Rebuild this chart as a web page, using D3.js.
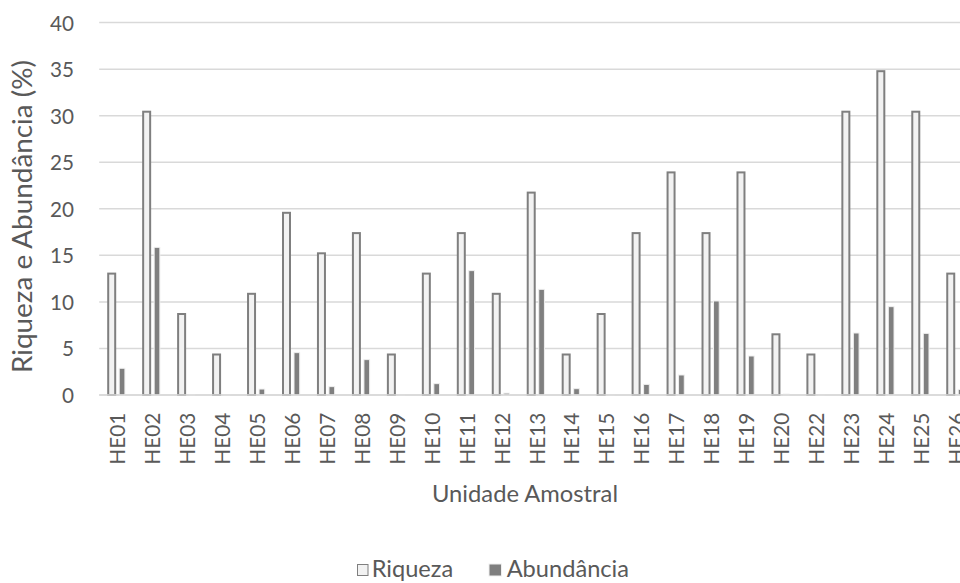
<!DOCTYPE html>
<html>
<head>
<meta charset="utf-8">
<script src="https://cdn.jsdelivr.net/npm/d3@7"></script>
<style>
  html, body { margin: 0; padding: 0; background: #ffffff; }
  svg { display: block; }
  text { font-family: Lato, "Open Sans", sans-serif; fill: #595959; }
</style>
</head>
<body>
<svg id="chart" width="960" height="583"></svg>
<script>
// ---- data ----
const categories = ["HE01","HE02","HE03","HE04","HE05","HE06","HE07","HE08","HE09","HE10",
  "HE11","HE12","HE13","HE14","HE15","HE16","HE17","HE18","HE19","HE20",
  "HE22","HE23","HE24","HE25","HE26"];
const riqueza = [13.04, 30.43, 8.70, 4.35, 10.87, 19.57, 15.22, 17.39, 4.35, 13.04,
  17.39, 10.87, 21.74, 4.35, 8.70, 17.39, 23.91, 17.39, 23.91, 6.52,
  4.35, 30.43, 34.78, 30.43, 13.04];
const abundancia = [2.87, 15.86, 0.05, 0.03, 0.64, 4.55, 0.90, 3.80, 0.03, 1.22,
  13.36, 0.20, 11.35, 0.68, 0.03, 1.14, 2.15, 10.10, 4.19, 0.10,
  0.03, 6.66, 9.49, 6.62, 0.60];
const seriesNames = ["Riqueza", "Abundância"];
const yTicks = [0, 5, 10, 15, 20, 25, 30, 35, 40];
const yTitle = "Riqueza e Abundância (%)";
const xTitle = "Unidade Amostral";

// ---- layout ----
const svg = d3.select("#chart");
const plotLeft = 99.2, step = 34.96, plotRight = 960;
const y0 = 395, yTop = 22.6;

const x = d3.scaleBand().domain(categories)
  .range([plotLeft, plotLeft + step * categories.length]).padding(0);
const xs = d3.scaleBand().domain(seriesNames).range([8, 28]).padding(0);
const y = d3.scaleLinear().domain([0, 40]).range([y0, yTop]);

function fitSize(sel, target, base) {
  sel.style("font-size", base + "px");
  const w = sel.node().getComputedTextLength();
  return base * target / w;
}

// gridlines
const grid = svg.append("g");
grid.selectAll("line").data(yTicks).join("line")
  .attr("x1", plotLeft).attr("x2", plotRight)
  .attr("y1", d => y(d)).attr("y2", d => y(d))
  .attr("stroke", "#d9d9d9").attr("stroke-width", 1.5);

// y axis labels
const yAxis = svg.append("g").attr("transform", "translate(74,0)")
  .call(d3.axisLeft(y).tickValues(yTicks).tickSize(0).tickPadding(0));
yAxis.select(".domain").remove();
const tmp = svg.append("text").text("35");
const tickFs = fitSize(tmp, 24, 20);
tmp.remove();
yAxis.selectAll("text").attr("fill", "#595959")
  .style("font-family", "Lato, 'Open Sans', sans-serif")
  .style("font-size", tickFs + "px").attr("dy", "0.36em");

// bars
const groups = svg.append("g").selectAll("g").data(categories).join("g")
  .attr("transform", d => `translate(${x(d)},0)`);

groups.append("rect")
  .attr("x", (d) => xs("Riqueza") + 1)
  .attr("width", xs.bandwidth() - 3)
  .attr("y", (d, i) => y(riqueza[i]))
  .attr("height", (d, i) => y0 - y(riqueza[i]))
  .attr("fill", "#f2f2f2").attr("stroke", "#7f7f7f").attr("stroke-width", 2);

groups.append("rect")
  .attr("x", (d) => xs("Abundância") + 2)
  .attr("width", xs.bandwidth() - 4.3)
  .attr("y", (d, i) => y(abundancia[i]))
  .attr("height", (d, i) => y0 - y(abundancia[i]))
  .attr("fill", "#7f7f7f").attr("stroke", "#efefef").attr("stroke-width", 1);

// baseline
svg.append("line").attr("x1", plotLeft).attr("x2", plotRight)
  .attr("y1", y0).attr("y2", y0).attr("stroke", "#d9d9d9").attr("stroke-width", 1.5);

// x tick labels
const tmp2 = svg.append("text").text("HE01");
const xFs = fitSize(tmp2, 52, 20);
tmp2.remove();
svg.append("g").selectAll("text").data(categories).join("text")
  .attr("transform", d => `translate(${x(d) + x.bandwidth() / 2 + 8.3},412.7) rotate(-90)`)
  .attr("text-anchor", "end")
  .style("font-size", xFs + "px")
  .text(d => d);

// y title
const yt = svg.append("text").text(yTitle)
  .attr("text-anchor", "middle")
  .attr("transform", "translate(32,216.5) rotate(-90)");
yt.style("font-size", fitSize(yt, 313, 22) + "px");

// x title
const xt = svg.append("text").text(xTitle)
  .attr("text-anchor", "middle").attr("x", 525).attr("y", 502);
xt.style("font-size", fitSize(xt, 186, 22) + "px");

// legend
const legend = svg.append("g");
const l1 = legend.append("text").text(seriesNames[0]).attr("x", 371.7).attr("y", 577);
const legFs = fitSize(l1, 81.6, 22);
l1.style("font-size", legFs + "px");
legend.append("rect").attr("x", 357.5).attr("y", 564.5).attr("width", 10.5).attr("height", 11)
  .attr("fill", "#f2f2f2").attr("stroke", "#7f7f7f").attr("stroke-width", 1);
legend.append("rect").attr("x", 489).attr("y", 564).attr("width", 12.5).attr("height", 12)
  .attr("fill", "#7f7f7f").attr("stroke", "#efefef").attr("stroke-width", 1);
legend.append("text").text(seriesNames[1]).attr("x", 506.7).attr("y", 577)
  .style("font-size", legFs + "px");
</script>
</body>
</html>
